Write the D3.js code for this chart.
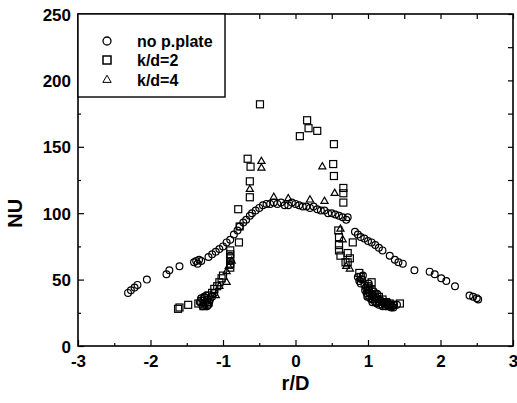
<!DOCTYPE html>
<html><head><meta charset="utf-8">
<script src="https://cdn.jsdelivr.net/npm/d3@7/dist/d3.min.js"></script>
<style>body{margin:0;background:#fff}svg{display:block}text{font-family:"Liberation Sans",Arial,sans-serif;font-weight:bold;fill:#000}</style>
</head><body><div id="c"></div>
<script>
// Data: [r/D, Nu]
const seriesNames = ["no p.plate", "k/d=2", "k/d=4"];
const xTicks = [-3, -2, -1, 0, 1, 2, 3];
const yTicks = [0, 50, 100, 150, 200, 250];

const noPlate = [
  [-2.31,40],[-2.27,42],[-2.22,44],[-2.18,46],[-2.05,50],[-1.78,54],[-1.74,57],[-1.6,60],[-1.4,63],[-1.37,64],
  [-1.35,62],[-1.33,65],[-1.3,64],[-1.2,67],[-1.15,69],[-1.1,71],[-1.05,73],[-1.0,75],[-0.95,78],[-0.9,80],
  [-0.85,84],[-0.8,87],[-0.77,90],[-0.72,93],[-0.68,95],[-0.63,98],[-0.6,100],[-0.55,102],[-0.5,104],[-0.45,106],
  [-0.4,107],[-0.35,107],[-0.3,108],[-0.25,107],[-0.2,108],[-0.15,106],[-0.1,106],[-0.05,108],[0,107],[0.05,106],
  [0.1,105],[0.15,105],[0.2,104],[0.25,105],[0.3,103],[0.35,102],[0.4,102],[0.45,100],[0.5,100],[0.55,99],
  [0.6,98],[0.65,97],[0.7,95],[0.72,97],
  [0.82,86],[0.86,84],[0.9,82],[0.95,81],[1.0,79],[1.05,78],[1.1,76],[1.15,74],[1.2,72],[1.3,68],
  [1.37,65],[1.42,63],[1.48,62],[1.64,57],[1.85,56],[1.92,54],[2.01,51],[2.08,49],[2.2,45],[2.4,38],
  [2.45,37],[2.5,36],[2.52,35],
  [0.86,52],[0.88,49],[0.92,50],[0.95,46],[0.97,44],[1.0,42],[1.02,40],[1.05,39],[1.07,38],[1.1,37],
  [1.12,36],[1.15,35],[1.18,34],[1.2,33],[1.22,32],[1.25,32],[1.28,31],[1.3,30],[1.33,30],[1.36,31],
  [1.4,31],[1.0,38],[1.05,35],[1.1,33],[1.15,31],[1.2,30],[0.98,40],[1.02,44],[1.08,41],[1.13,39],
  [0.96,42],[0.99,37],[1.03,36],[1.06,33],[1.09,35],[1.12,32],[1.16,33],[1.19,31],[1.24,30],[1.27,33],
  [1.32,29],[1.35,29],[1.01,47],[0.93,53],[0.9,47],
  [-1.3,36],[-1.27,34],[-1.25,32],[-1.22,30],[-1.2,31],[-1.18,35],[-1.15,37],[-1.12,40],[-1.28,30],[-1.23,38],
  [-1.32,33],[-1.26,37],[-1.19,33],[-1.21,35],[-0.9,64],[-0.9,61],[-0.9,68]
];
const kd2 = [
  [-1.62,28],[-1.6,29],[-1.48,31],[-1.34,32],[-1.3,34],[-1.27,30],[-1.25,36],[-1.22,33],[-1.2,38],[-1.15,40],
  [-1.12,43],[-1.08,45],[-1.05,48],[-1.02,51],[-1.0,53],[-0.9,72],[-0.9,69],[-0.9,66],[-0.9,62],[-0.9,59],
  [-0.78,78],[-0.77,90],[-0.79,103],[-0.63,112],[-0.63,124],[-0.66,141],[-0.62,135],[-0.49,182],
  [0.06,158],[0.16,170],[0.18,164],[0.3,162],[0.53,152],[0.52,137],[0.53,128],[0.66,119],[0.66,115],[0.66,108],
  [0.59,87],[0.6,82],[0.6,76],[0.6,72],[0.62,68],[0.79,78],[0.72,70],[0.72,63],[0.69,63],[0.75,66],
  [0.88,55],[0.9,52],[1.05,48],[1.0,45],[1.05,42],[1.1,39],[1.15,37],[1.2,35],[1.25,33],[1.3,32],
  [1.35,31],[1.44,32],[1.3,30]
];
const kd4 = [
  [-0.47,139],[-0.47,134],[0.37,135],[0.54,115],[-0.63,118],
  [-0.95,56],[-0.92,60],[-0.88,64],[-0.95,48],[-1.05,45],[-1.1,38],[-1.2,32],[-1.25,30],
  [-0.3,112],[-0.1,111],[0.2,110],[0.4,109],
  [0.62,88],[0.65,80],[0.7,60],[0.75,58],[0.9,50],[1.0,42],[1.1,36],[1.2,33],[1.3,30]
];

const W = 517, H = 403;
const m = {left: 78, right: 4, top: 14, bottom: 57};
const svg = d3.select("#c").append("svg").attr("width", W).attr("height", H);
const x = d3.scaleLinear().domain([-3, 3]).range([m.left, W - m.right]);
const y = d3.scaleLinear().domain([0, 250]).range([H - m.bottom, m.top]);

const x0 = x(-3), x1 = x(3), y0 = y(0), y1 = y(250);

// axes (inward ticks)
const gB = svg.append("g").attr("transform", `translate(0,${y0})`)
  .call(d3.axisBottom(x).tickValues(xTicks).tickSize(-6).tickPadding(9).tickFormat(d => String(d)));
const gBm = svg.append("g").attr("transform", `translate(0,${y0})`)
  .call(d3.axisBottom(x).tickValues(d3.range(-2.5, 3, 1)).tickSize(-3).tickFormat(""));
const gT = svg.append("g").attr("transform", `translate(0,${y1})`)
  .call(d3.axisTop(x).tickValues(d3.range(-3, 3.01, 0.5)).tickSize(-5).tickFormat(""));
const gL = svg.append("g").attr("transform", `translate(${x0},0)`)
  .call(d3.axisLeft(y).tickValues(yTicks).tickSize(-6).tickPadding(7).tickFormat(d => String(d)));
const gLm = svg.append("g").attr("transform", `translate(${x0},0)`)
  .call(d3.axisLeft(y).tickValues(d3.range(25, 250, 50)).tickSize(-3).tickFormat(""));
const gR = svg.append("g").attr("transform", `translate(${x1},0)`)
  .call(d3.axisRight(y).tickValues(d3.range(0, 251, 25)).tickSize(-5).tickFormat(""));
[gB, gBm, gT, gL, gLm, gR].forEach(g => {
  g.select(".domain").remove();
  g.selectAll("line").attr("stroke", "#000").attr("stroke-width", 1.2);
  g.selectAll("text").style("font-size", "17px").style("font-family", "Liberation Sans, Arial, sans-serif").style("font-weight", "bold").attr("fill", "#000");
});
gB.selectAll("text").attr("dy", "0.71em");
gL.selectAll("text").attr("dy", "0.36em");

svg.append("rect").attr("x", x0).attr("y", y1).attr("width", x1 - x0).attr("height", y0 - y1)
  .attr("fill", "none").attr("stroke", "#000").attr("stroke-width", 1.6);

// markers
const g = svg.append("g").attr("fill", "none").attr("stroke", "#000").attr("stroke-width", 1.2);
g.selectAll("circle.np").data(noPlate).join("circle").attr("class", "np")
  .attr("cx", d => x(d[0])).attr("cy", d => y(d[1])).attr("r", 3.4);
g.selectAll("rect.k2").data(kd2).join("rect").attr("class", "k2")
  .attr("x", d => x(d[0]) - 3.5).attr("y", d => y(d[1]) - 3.5).attr("width", 7).attr("height", 7);
const tri = d3.symbol().type(d3.symbolTriangle).size(22);
g.selectAll("path.k4").data(kd4).join("path").attr("class", "k4")
  .attr("transform", d => `translate(${x(d[0])},${y(d[1])})`).attr("d", tri);

// legend
const lg = svg.append("g");
lg.append("rect").attr("x", x0).attr("y", y1).attr("width", 147).attr("height", 83)
  .attr("fill", "#fff").attr("stroke", "#000").attr("stroke-width", 1.4);
const rows = [41, 60, 80];
lg.append("circle").attr("cx", 107).attr("cy", rows[0]).attr("r", 4).attr("fill", "none").attr("stroke", "#000").attr("stroke-width", 1.3);
lg.append("rect").attr("x", 103).attr("y", rows[1] - 4).attr("width", 8).attr("height", 8).attr("fill", "none").attr("stroke", "#000").attr("stroke-width", 1.5);
lg.append("path").attr("transform", `translate(107,${rows[2]})`).attr("d", d3.symbol().type(d3.symbolTriangle).size(30)).attr("fill", "none").attr("stroke", "#000").attr("stroke-width", 1);
seriesNames.forEach((n, i) => {
  lg.append("text").attr("x", 137).attr("y", rows[i]).attr("dy", "0.35em").style("font-size", "16px").text(n);
});

// axis titles
svg.append("text").attr("x", x(0)).attr("y", 390).attr("text-anchor", "middle").style("font-size", "20px").text("r/D");
svg.append("text").attr("transform", `translate(22,${y(100)}) rotate(-90)`).attr("text-anchor", "middle").style("font-size", "20px").text("NU");
</script></body></html>
